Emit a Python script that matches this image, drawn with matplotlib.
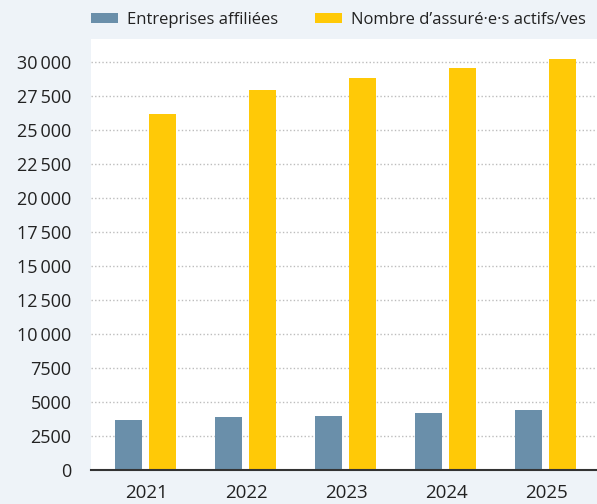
import numpy as np
import matplotlib.pyplot as plt
from matplotlib.ticker import FuncFormatter

years = ['2021', '2022', '2023', '2024', '2025']
entreprises = [3700, 3920, 3990, 4210, 4430]
assures = [26170, 27930, 28820, 29550, 30200]
series_labels = ['Entreprises affiliées', 'Nombre d\u2019assuré\u00b7e\u00b7s actifs/ves']

bg = '#eef3f8'
blue = '#6a8faa'
yellow = '#ffc907'
txt = '#222222'

plt.rcParams['font.family'] = ['Open Sans', 'DejaVu Sans']

fig = plt.figure(figsize=(5.97, 5.04), dpi=100, facecolor=bg)
ax = fig.add_axes([91/597, 33.7/504, 1 - 91/597, (470.3 - 39)/504])
ax.set_facecolor('white')

x = np.arange(len(years))
w = 0.27
b1 = ax.bar(x - 0.175, entreprises, w, color=blue, zorder=3, label=series_labels[0])
b2 = ax.bar(x + 0.165, assures, w, color=yellow, zorder=3, label=series_labels[1])

ax.set_xlim(-0.55, 4.51)
ax.set_ylim(0, 31670)
ax.set_yticks(np.arange(0, 30001, 2500))
ax.set_xticks(x)
ax.set_xticklabels(years)

def fmt(v, pos):
    v = int(v)
    if v < 10000:
        return str(v)
    return f'{v:,}'.replace(',', '\u2009')

ax.yaxis.set_major_formatter(FuncFormatter(fmt))
ax.tick_params(axis='y', length=0, pad=14, labelsize=13, labelcolor=txt)
ax.tick_params(axis='x', length=0, pad=10, labelsize=13.5, labelcolor=txt)

for v in np.arange(2500, 30001, 2500):
    ax.axhline(v, color='#bdbdbd', lw=1, ls=(0, (1, 1.6)), zorder=1)

for s in ['top', 'right', 'left']:
    ax.spines[s].set_visible(False)
ax.spines['bottom'].set_color('#333333')
ax.spines['bottom'].set_linewidth(1.5)
ax.spines['bottom'].set_zorder(4)

fig.legend(handles=[b1, b2], loc='center left', bbox_to_anchor=(91/597, 1 - 20/504),
           ncol=2, frameon=False, fontsize=12, handlelength=1.62, handleheight=0.6,
           handletextpad=0.54, columnspacing=2.2, borderaxespad=0, borderpad=0,
           labelcolor=txt)

fig.savefig('out.png', dpi=100, facecolor=bg)
